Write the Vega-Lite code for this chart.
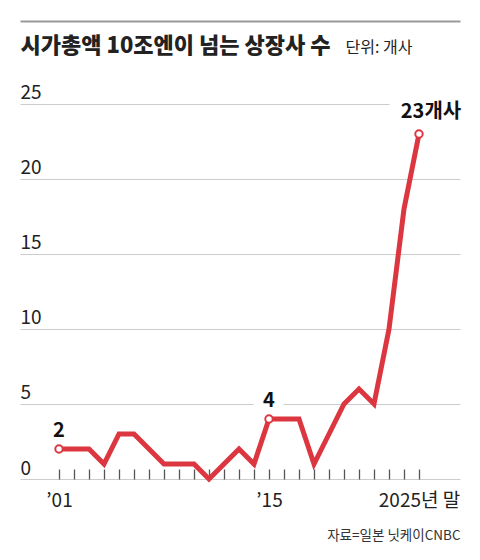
{
  "$schema": "https://vega.github.io/schema/vega-lite/v6.json",
  "autosize": "none",
  "width": 440,
  "height": 458,
  "padding": {"left": 20, "top": 21, "right": 20, "bottom": 81},
  "background": "white",
  "config": {"view": {"stroke": null}, "font": "Noto Sans CJK KR"},
  "data": {
    "values": [
      {"year": 2001, "value": 2, "label": "2"},
      {"year": 2002, "value": 2},
      {"year": 2003, "value": 2},
      {"year": 2004, "value": 1},
      {"year": 2005, "value": 3},
      {"year": 2006, "value": 3},
      {"year": 2007, "value": 2},
      {"year": 2008, "value": 1},
      {"year": 2009, "value": 1},
      {"year": 2010, "value": 1},
      {"year": 2011, "value": 0},
      {"year": 2012, "value": 1},
      {"year": 2013, "value": 2},
      {"year": 2014, "value": 1},
      {"year": 2015, "value": 4, "label": "4"},
      {"year": 2016, "value": 4},
      {"year": 2017, "value": 4},
      {"year": 2018, "value": 1},
      {"year": 2019, "value": 3},
      {"year": 2020, "value": 5},
      {"year": 2021, "value": 6},
      {"year": 2022, "value": 5},
      {"year": 2023, "value": 10},
      {"year": 2024, "value": 18},
      {"year": 2025, "value": 23, "label": "23개사"}
    ]
  },
  "encoding": {
    "x": {"field": "year", "type": "quantitative", "scale": {"domain": [1998.4, 2027.7333], "nice": false, "zero": false}, "axis": null},
    "y": {
      "field": "value", "type": "quantitative",
      "scale": {"domain": [0, 30.5333], "nice": false},
      "axis": {
        "orient": "left",
        "values": [0, 5, 10, 15, 20, 25],
        "grid": true,
        "gridColor": "#cccccc",
        "gridWidth": 1,
        "domain": false,
        "ticks": false,
        "tickSize": 0,
        "labelPadding": 0,
        "labelAlign": "left",
        "labelBaseline": "alphabetic",
        "labelOffset": -5,
        "labelFont": "Liberation Sans Narrow, Noto Sans CJK KR",
        "labelFontSize": 19,
        "labelColor": "#222",
        "title": "단위: 개사",
        "titleAngle": 0,
        "titleX": 325,
        "titleY": 31,
        "titleAlign": "left",
        "titleBaseline": "alphabetic",
        "titleFont": "Noto Sans CJK KR",
        "titleFontSize": 16,
        "titleFontWeight": "normal",
        "titleColor": "#222"
      }
    }
  },
  "layer": [
    {
      "transform": [{"filter": "datum.label && datum.year != 2025"}],
      "mark": {"type": "text", "font": "Liberation Sans Narrow, Noto Sans CJK KR", "fontSize": 20, "fontWeight": "bold", "fill": "white", "stroke": "white", "strokeWidth": 18, "baseline": "alphabetic", "align": "center", "dy": -12},
      "encoding": {"text": {"field": "label"}}
    },
    {
      "transform": [{"filter": "datum.year == 2025"}],
      "mark": {"type": "text", "font": "Liberation Sans Narrow, Noto Sans CJK KR", "fontSize": 20, "fontWeight": "bold", "fill": "white", "stroke": "white", "strokeWidth": 18, "baseline": "alphabetic", "align": "center", "dy": -16, "dx": 12},
      "encoding": {"text": {"field": "label"}}
    },
    {
      "mark": {"type": "line", "color": "#dc3741", "strokeWidth": 5, "strokeJoin": "miter"},
      "encoding": {
        "x": {
          "field": "year", "type": "quantitative",
          "axis": {
            "orient": "bottom",
            "values": [2001,2002,2003,2004,2005,2006,2007,2008,2009,2010,2011,2012,2013,2014,2015,2016,2017,2018,2019,2020,2021,2022,2023,2024,2025],
            "labelExpr": "datum.value == 2001 ? '’01' : datum.value == 2015 ? '’15' : datum.value == 2025 ? '2025년 말' : ''",
            "labelOverlap": false,
            "labelFlush": false,
            "labelFont": "Liberation Sans Narrow, Noto Sans CJK KR",
            "labelFontSize": 19,
            "labelColor": "#222",
            "labelBaseline": "alphabetic",
            "labelPadding": 37,
            "domain": false,
            "grid": false,
            "ticks": true,
            "tickSize": -10,
            "tickColor": "#555",
            "tickWidth": 1.3,
            "title": "자료=일본 닛케이CNBC",
            "titleX": 440,
            "titleY": 60,
            "titleAlign": "right",
            "titleBaseline": "alphabetic",
            "titleFont": "Noto Sans CJK KR",
            "titleFontSize": 13.5,
            "titleFontWeight": "normal",
            "titleColor": "#333"
          }
        }
      }
    },
    {
      "transform": [{"filter": "datum.label"}],
      "mark": {"type": "point", "filled": true, "fill": "white", "stroke": "#dc3741", "strokeWidth": 2, "size": 55, "opacity": 1},
      "encoding": {
        "x": {
          "field": "year", "type": "quantitative",
          "axis": {
            "orient": "top",
            "domain": true,
            "domainColor": "#999999",
            "domainWidth": 2,
            "ticks": false,
            "labels": false,
            "grid": false,
            "title": "시가총액 10조엔이 넘는 상장사 수",
            "titleX": 0,
            "titleY": 31,
            "titleAlign": "left",
            "titleBaseline": "alphabetic",
            "titleFont": "Noto Sans CJK KR",
            "titleFontSize": 22,
            "titleFontWeight": 900,
            "titleColor": "#222"
          }
        }
      }
    },
    {
      "transform": [{"filter": "datum.label && datum.year != 2025"}],
      "mark": {"type": "text", "font": "Liberation Sans Narrow, Noto Sans CJK KR", "fontSize": 20, "fontWeight": "bold", "color": "#111", "baseline": "alphabetic", "align": "center", "dy": -12},
      "encoding": {"text": {"field": "label"}}
    },
    {
      "transform": [{"filter": "datum.year == 2025"}],
      "mark": {"type": "text", "font": "Liberation Sans Narrow, Noto Sans CJK KR", "fontSize": 20, "fontWeight": "bold", "color": "#111", "baseline": "alphabetic", "align": "center", "dy": -16, "dx": 12},
      "encoding": {"text": {"field": "label"}}
    }
  ],
  "resolve": {"axis": {"x": "independent"}}
}
